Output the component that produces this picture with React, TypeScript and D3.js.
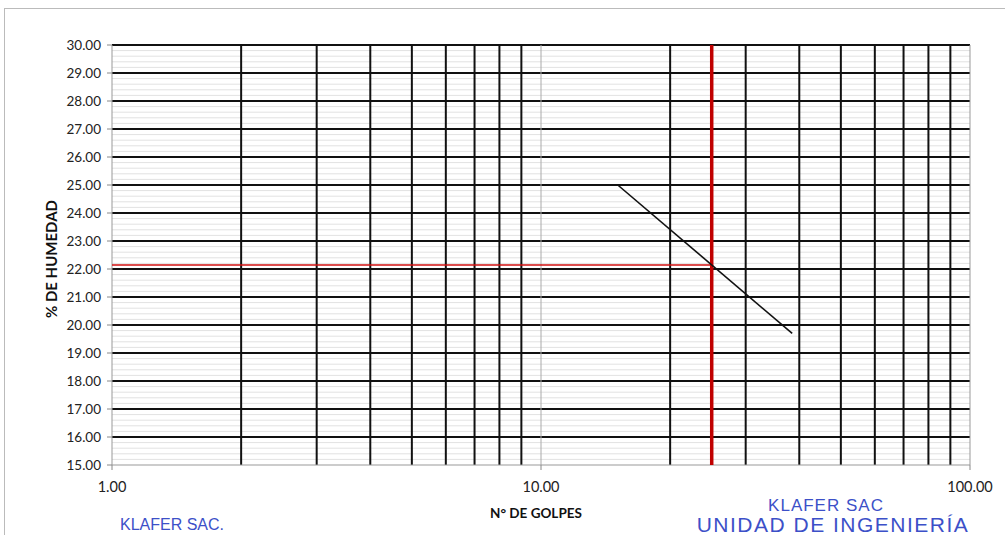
import React, { useEffect, useRef } from 'react';
import * as d3 from 'd3';

// values
const xDomain = [1, 100];
const yDomain = [15, 30];
const xTickLabels = [1, 10, 100];
const yTickLabels = [15, 16, 17, 18, 19, 20, 21, 22, 23, 24, 25, 26, 27, 28, 29, 30];
const trendGolpes = [15.1, 38.5];
const trendHumedad = [25.0, 19.7];
const golpesRef = [25];
const humedadRef = [22.14];

export default function App() {
    const ref = useRef<SVGSVGElement>(null);

    useEffect(() => {
        const svgWidth = 1005, svgHeight = 535;
        const pad = { top: 45, bottom: 70, left: 112, right: 35 };
        const width = svgWidth - pad.left - pad.right;
        const height = svgHeight - pad.top - pad.bottom;
        const font = 'Lato, "Open Sans", sans-serif';

        const svg = d3.select(ref.current);
        svg.selectAll('*').remove();

        // outer frame of the chart
        svg.append('rect')
            .attr('x', 4.5).attr('y', 8.5)
            .attr('width', svgWidth + 10).attr('height', svgHeight + 10)
            .attr('fill', 'none').attr('stroke', '#bbb').attr('stroke-width', 1);

        const graph = svg.append('g')
            .attr('transform', 'translate(' + pad.left + ',' + pad.top + ')');

        const scaleX = d3.scaleLog().domain(xDomain).range([0, width]);
        const scaleY = d3.scaleLinear().domain(yDomain).range([height, 0]);

        // minor horizontal grid
        const minor = d3.range(yDomain[0], yDomain[1], 0.2).filter(v => Math.abs(v - Math.round(v)) > 0.01);
        graph.append('g').selectAll('line')
            .data(minor).enter().append('line')
            .attr('x1', 0).attr('x2', width)
            .attr('y1', d => scaleY(d)).attr('y2', d => scaleY(d))
            .attr('stroke', '#e2e2e2').attr('stroke-width', 1);

        // major horizontal grid
        graph.append('g').selectAll('line')
            .data(yTickLabels.filter(v => v > yDomain[0])).enter().append('line')
            .attr('x1', 0).attr('x2', width)
            .attr('y1', d => scaleY(d)).attr('y2', d => scaleY(d))
            .attr('stroke', '#111').attr('stroke-width', 2);

        // vertical grid (log)
        const vTicks = scaleX.ticks().filter(v => v > 1 && v < 100);
        graph.append('g').selectAll('line')
            .data(vTicks).enter().append('line')
            .attr('x1', d => scaleX(d)).attr('x2', d => scaleX(d))
            .attr('y1', 0).attr('y2', height)
            .attr('stroke', d => (d === 10 ? '#aaa' : '#111'))
            .attr('stroke-width', d => (d === 10 ? 1 : 2));

        // plot borders
        graph.append('line').attr('x1', 0).attr('x2', 0).attr('y1', 0).attr('y2', height)
            .attr('stroke', '#999').attr('stroke-width', 1);
        graph.append('line').attr('x1', width).attr('x2', width).attr('y1', 0).attr('y2', height)
            .attr('stroke', '#999').attr('stroke-width', 1);
        graph.append('line').attr('x1', 0).attr('x2', width).attr('y1', height).attr('y2', height)
            .attr('stroke', '#999').attr('stroke-width', 1);

        // y ticks and labels
        graph.append('g').selectAll('line')
            .data(yTickLabels).enter().append('line')
            .attr('x1', -5).attr('x2', 0)
            .attr('y1', d => scaleY(d)).attr('y2', d => scaleY(d))
            .attr('stroke', '#888');
        graph.append('g').selectAll('text')
            .data(yTickLabels).enter().append('text')
            .attr('x', -11).attr('y', d => scaleY(d))
            .attr('dy', '0.35em')
            .attr('text-anchor', 'end')
            .attr('font-family', font).attr('font-size', 13.5)
            .attr('fill', '#222')
            .text(d => d.toFixed(2));

        // x ticks and labels
        graph.append('g').selectAll('line')
            .data(xTickLabels).enter().append('line')
            .attr('x1', d => scaleX(d)).attr('x2', d => scaleX(d))
            .attr('y1', height).attr('y2', height + 5)
            .attr('stroke', '#888');
        graph.append('g').selectAll('text')
            .data(xTickLabels).enter().append('text')
            .attr('x', d => scaleX(d)).attr('y', height + 27)
            .attr('text-anchor', 'middle')
            .attr('font-family', font).attr('font-size', 14.5)
            .attr('fill', '#222')
            .text(d => d.toFixed(2));

        // red reference lines
        graph.append('line')
            .attr('x1', 0).attr('x2', scaleX(golpesRef[0]))
            .attr('y1', scaleY(humedadRef[0])).attr('y2', scaleY(humedadRef[0]))
            .attr('stroke', '#d01010').attr('stroke-width', 1.5);
        graph.append('line')
            .attr('x1', scaleX(golpesRef[0])).attr('x2', scaleX(golpesRef[0]))
            .attr('y1', 0).attr('y2', height)
            .attr('stroke', '#c00000').attr('stroke-width', 3.5);

        // flow curve
        const pts = trendGolpes.map((g, i) => [g, trendHumedad[i]] as [number, number]);
        const line = d3.line<[number, number]>()
            .x(d => scaleX(d[0]))
            .y(d => scaleY(d[1]));
        graph.append('path')
            .attr('d', line(pts))
            .attr('fill', 'none').attr('stroke', '#111').attr('stroke-width', 1.6);

        // axis titles
        svg.append('text')
            .attr('x', pad.left + scaleX(10) - 5).attr('y', 518)
            .attr('text-anchor', 'middle')
            .attr('font-family', font).attr('font-size', 13.5).attr('font-weight', 'bold')
            .attr('fill', '#111')
            .text('N° DE GOLPES');
        svg.append('text')
            .attr('transform', 'translate(57,' + (pad.top + height / 2 + 4) + ') rotate(-90)')
            .attr('text-anchor', 'middle')
            .attr('font-family', font).attr('font-size', 15).attr('font-weight', 'bold')
            .attr('fill', '#111')
            .text('% DE HUMEDAD');

        // stamp texts
        const stamp = '#3c50c8';
        svg.append('text')
            .attr('x', 120).attr('y', 530)
            .attr('font-family', '"Liberation Sans", sans-serif').attr('font-size', 16)
            .attr('fill', stamp)
            .text('KLAFER SAC.');
        svg.append('text')
            .attr('x', 826).attr('y', 511)
            .attr('text-anchor', 'middle')
            .attr('font-family', '"Liberation Sans", sans-serif').attr('font-size', 17)
            .attr('letter-spacing', 1)
            .attr('fill', stamp)
            .text('KLAFER SAC');
        svg.append('text')
            .attr('x', 833).attr('y', 532)
            .attr('text-anchor', 'middle')
            .attr('font-family', '"Liberation Sans", sans-serif').attr('font-size', 21)
            .attr('letter-spacing', 1.5)
            .attr('fill', stamp)
            .text('UNIDAD DE INGENIERÍA');
    }, []);

    return (
        <div>
            <svg ref={ref} width={1005} height={535}
                style={{ position: 'absolute', left: 0, top: 0, background: '#fff' }} />
        </div>
    );
}
